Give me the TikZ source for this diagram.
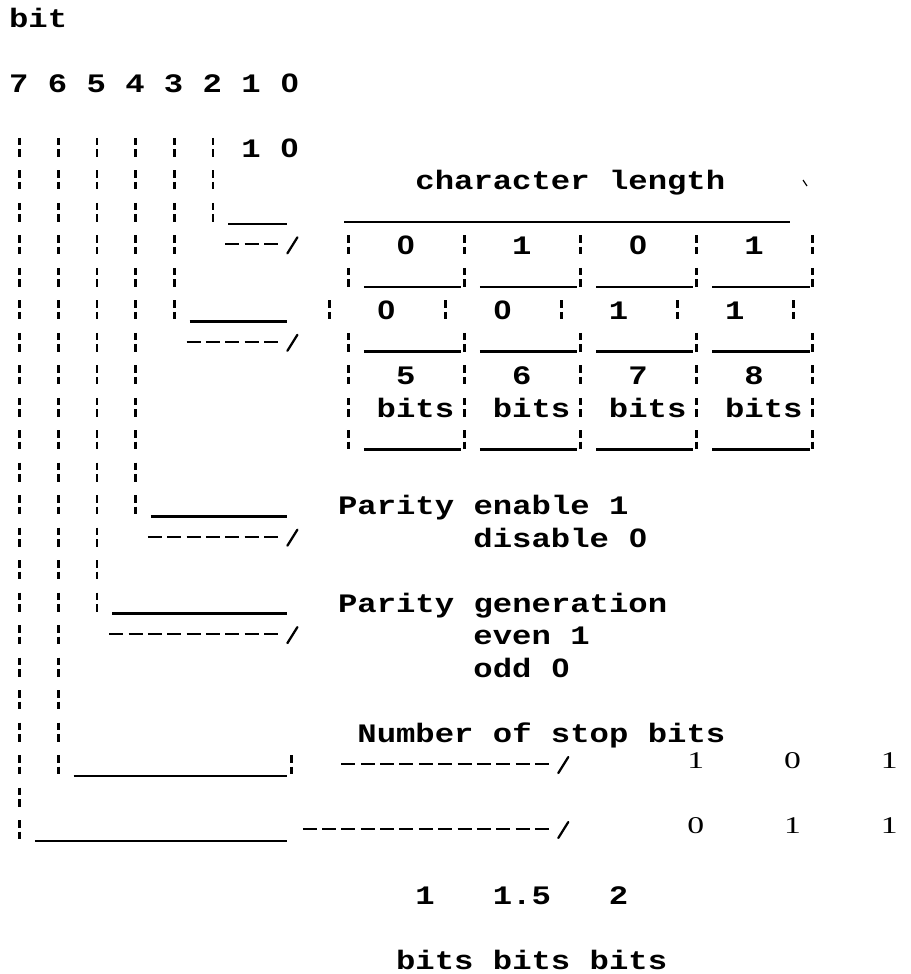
\documentclass[tikz,border=0pt]{standalone}
\usepackage{fontspec}
\usepackage{graphicx}
\newfontfamily\dmfont{Liberation Mono}
\newfontfamily\zfont{Liberation Sans}
\newfontfamily\valfont{Liberation Serif}
\newcommand{\dm}[1]{\scalebox{1.21}[1]{#1}}
\newcommand{\dmv}[1]{\scalebox{1.4}[1]{#1}}
\newcommand{\zr}{\makebox[0.6em]{\zfont\bfseries 0}}
\tikzset{
  txt/.style={inner sep=0pt, anchor=base west, font=\dmfont\bfseries\fontsize{20}{24}\selectfont},
  val/.style={inner sep=0pt, anchor=base, font=\valfont\fontsize{18}{20}\selectfont},
  bar/.style={line width=2.1pt},
  uline/.style={line width=2pt},
  dline/.style={line width=1.7pt, dash pattern=on 10.5pt off 4.01pt},
  slash/.style={line width=1.7pt, line cap=round},
}
\begin{document}
\begin{tikzpicture}[x=0.75pt,y=-0.75pt]
\useasboundingbox (0,0) rectangle (910,974);
\def\cw{19.35}
\def\rh{32.48}
% ---- 针式打印字符格：列宽 \cw，行高 \rh ----
\begin{scope}[shift={(18.5,18)}]
% ---- 标题与位号 ----
\node[txt] (bitlbl) at ({-0.5*\cw},{0*\rh+9.5}) {\dm{bit}};
\node[txt] (bitnum) at ({-0.5*\cw},{2*\rh+9.5}) {\dm{7 6 5 4 3 2 1 \zr}};
\node[txt] (lowbits) at ({11.5*\cw},{4*\rh+9.5}) {\dm{1 \zr}};
% ---- 左侧 ¦ 竖线：每位一列 ----
\foreach \c/\rb in {0/25,2/23,4/18,6/15,8/9,10/6}{
  \foreach \r in {4,...,\rb}{
    \draw[bar] ({\c*\cw+1},{\r*\rh-10}) -- ++(0,7.5)
               ({\c*\cw+1},{\r*\rh+1.5}) -- ++(0,7.5);
  }
}
\draw[bar] ({14*\cw+2},{23*\rh-10}) -- ++(0,7.5)
           ({14*\cw+2},{23*\rh+1.5}) -- ++(0,7.5);
% ---- 分支：下划线 + 虚线 + 斜杠 ----
\foreach \r/\a in {6/11,9/9,15/7,18/5,23/3,25/1}
  \draw[uline] ({\a*\cw-3},{\r*\rh+11}) -- ({13*\cw+17},{\r*\rh+11});
\foreach \r/\a/\b in {7/11/13,10/9/13,16/7/13,19/5/13,23/17/27,25/15/27}{
  \draw[dline] ({\a*\cw-6},{\r*\rh-1}) -- ({\b*\cw+8},{\r*\rh-1});
  \draw[slash] ({(\b+1)*\cw-2},{\r*\rh+8}) -- ({(\b+1)*\cw+8},{\r*\rh-8});
}
% ---- 字符长度表 ----
\node[txt] (clen) at ({20.5*\cw},{5*\rh+9.5}) {\dm{character length}};
\draw[uline] ({17*\cw-3},{6*\rh+9}) -- ({39*\cw+17},{6*\rh+9});
\foreach \r in {7,8,10,11,12,13}{
  \foreach \c in {17,23,29,35,41}{
    \draw[bar] ({\c*\cw+1},{\r*\rh-10}) -- ++(0,7.5)
               ({\c*\cw+1},{\r*\rh+1.5}) -- ++(0,7.5);
  }
}
\foreach \c in {16,22,28,34,40}{
  \draw[bar] ({\c*\cw+1},{9*\rh-10}) -- ++(0,7.5)
             ({\c*\cw+1},{9*\rh+1.5}) -- ++(0,7.5);
}
\foreach \r in {8,10,13}{
  \foreach \k in {0,...,3}{
    \draw[uline] ({(18+6*\k)*\cw-3},{\r*\rh+9}) -- ({(22+6*\k)*\cw+17},{\r*\rh+9});
  }
}
\foreach \v [count=\i from 0] in {\zr,1,\zr,1}
  \node[txt] (lena\i) at ({(19.5+6*\i)*\cw},{7*\rh+9.5}) {\dm{\v}};
\foreach \v [count=\i from 0] in {\zr,\zr,1,1}
  \node[txt] (lenb\i) at ({(18.5+6*\i)*\cw},{9*\rh+9.5}) {\dm{\v}};
\foreach \v [count=\i from 0] in {5,6,7,8}
  \node[txt] (lenn\i) at ({(19.5+6*\i)*\cw},{11*\rh+9.5}) {\dm{\v}};
\foreach \i in {0,...,3}
  \node[txt] (lenu\i) at ({(18.5+6*\i)*\cw},{12*\rh+9.5}) {\dm{bits}};
% ---- 奇偶校验 ----
\node[txt] (penable) at ({16.5*\cw},{15*\rh+9.5}) {\dm{Parity enable 1}};
\node[txt] (pdisable) at ({23.5*\cw},{16*\rh+9.5}) {\dm{disable \zr}};
\node[txt] (pgen) at ({16.5*\cw},{18*\rh+9.5}) {\dm{Parity generation}};
\node[txt] (peven) at ({23.5*\cw},{19*\rh+9.5}) {\dm{even 1}};
\node[txt] (podd) at ({23.5*\cw},{20*\rh+9.5}) {\dm{odd \zr}};
% ---- 停止位 ----
\node[txt] (nstop) at ({17.5*\cw},{22*\rh+9.5}) {\dm{Number of stop bits}};
\foreach \v [count=\i from 0] in {1,0,1}
  \node[val] (stopa\i) at ({(35+5*\i)*\cw},{23*\rh+3}) {\dmv{\v}};
\foreach \v [count=\i from 0] in {0,1,1}
  \node[val] (stopb\i) at ({(35+5*\i)*\cw},{25*\rh+3}) {\dmv{\v}};
\node[txt] (sone) at ({20.5*\cw},{27*\rh+9.5}) {\dm{1}};
\node[txt] (sonefive) at ({24.5*\cw},{27*\rh+9.5}) {\dm{1.5}};
\node[txt] (stwo) at ({30.5*\cw},{27*\rh+9.5}) {\dm{2}};
\node[txt] (sbits) at ({19.5*\cw},{29*\rh+9.5}) {\dm{bits bits bits}};
\end{scope}
\draw[line width=0.9pt] (803,180) -- (807,186);
\end{tikzpicture}
\end{document}
